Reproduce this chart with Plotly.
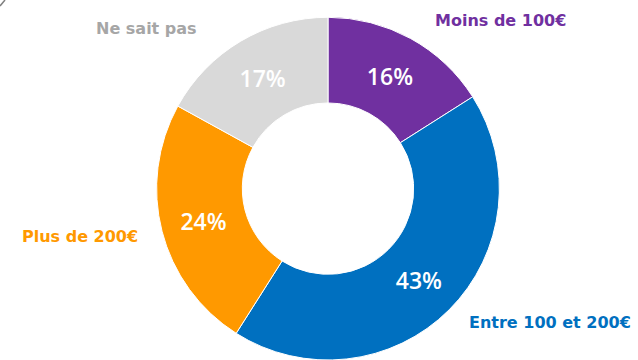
import plotly.graph_objects as go

# Budget share by spending bracket
categories = ["Moins de 100€", "Entre 100 et 200€", "Plus de 200€", "Ne sait pas"]
shares = [16, 43, 24, 17]
colors = ["#7030A0", "#0070C0", "#FF9900", "#D9D9D9"]
label_colors = ["#7030A0", "#0070C0", "#FF9900", "#A6A6A6"]

# category label anchors (paper coordinates)
label_x = [0.785, 0.862, 0.126, 0.230]
label_y = [0.944, 0.105, 0.342, 0.922]

W, H = 638, 360

fig = go.Figure(
    go.Pie(
        labels=categories,
        values=shares,
        sort=False,
        direction="clockwise",
        rotation=0,
        hole=0.5,
        marker=dict(colors=colors, line=dict(color="white", width=1)),
        textinfo="none",
        texttemplate="%{value}%",
        textposition="inside",
        insidetextorientation="horizontal",
        insidetextfont=dict(family="Open Sans", size=23, color="white", weight=600),
        showlegend=False,
        domain=dict(x=[0.2429, 0.7853], y=[0.0, 0.952]),
    )
)

for name, c, x, y in zip(categories, label_colors, label_x, label_y):
    fig.add_annotation(
        text=name, x=x, y=y, xref="paper", yref="paper",
        xanchor="center", yanchor="middle", showarrow=False,
        font=dict(family="DejaVu Sans", size=16, color=c, weight="bold"),
    )

# small corner stroke at the top-left edge
fig.add_shape(
    type="line", xref="paper", yref="paper",
    x0=0, y0=1 - 6 / H, x1=5 / W, y1=1,
    line=dict(color="#7F7F7F", width=1.5),
)

fig.update_layout(
    width=W, height=H,
    margin=dict(l=0, r=0, t=0, b=0),
    paper_bgcolor="white",
    plot_bgcolor="white",
)

fig.write_html("out.html")
